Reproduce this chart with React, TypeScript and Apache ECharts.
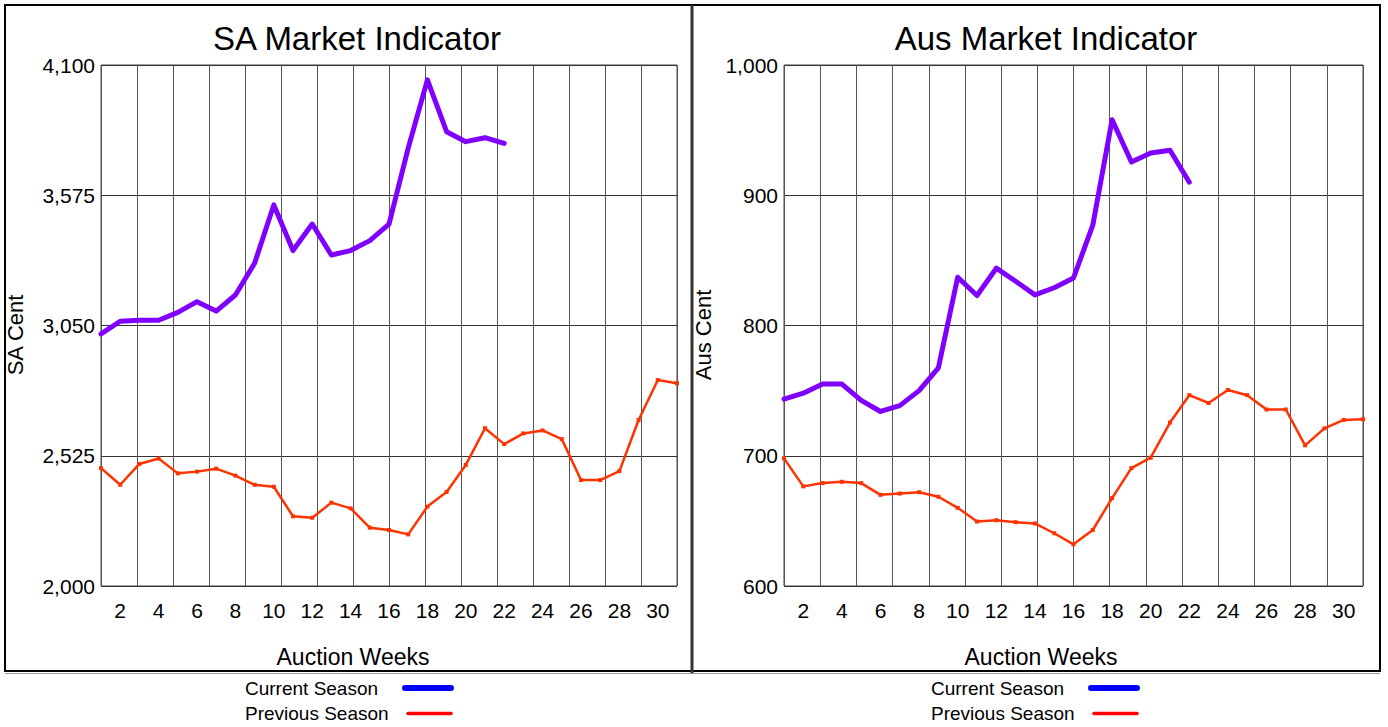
import React, { useEffect, useRef } from "react";
import * as echarts from "echarts";

const weeks = [1, 2, 3, 4, 5, 6, 7, 8, 9, 10, 11, 12, 13, 14, 15, 16, 17, 18, 19, 20, 21, 22, 23, 24, 25, 26, 27, 28, 29, 30, 31];

const saCurrent = [3016, 3067, 3071, 3071, 3103, 3146, 3108, 3173, 3301, 3536, 3352, 3459, 3334, 3352, 3392, 3459, 3765, 4040, 3831, 3791, 3807, 3784];
const saPrevious = [2475, 2408, 2492, 2514, 2454, 2461, 2473, 2445, 2408, 2400, 2281, 2275, 2336, 2313, 2235, 2226, 2208, 2320, 2379, 2488, 2636, 2572, 2615, 2627, 2592, 2427, 2427, 2463, 2669, 2830, 2817];

const ausCurrent = [743.5, 748, 755, 755, 742.5, 734, 738.5, 750, 767.5, 837, 823, 844, 834, 823.5, 829, 836.5, 877, 958, 925.5, 932.5, 934.5, 910];
const ausPrevious = [698, 676.5, 679, 680, 679, 670, 671, 672, 668.5, 660, 649.5, 650.5, 649, 648, 640.5, 632, 643, 667.5, 690.5, 698.5, 725.5, 746.5, 740.5, 750.5, 746.5, 735.5, 735.5, 708, 721, 727.5, 728];

const saTickLabels = ["2,000", "2,525", "3,050", "3,575", "4,100"];
const ausTickLabels = ["600", "700", "800", "900", "1,000"];
const saRange = [2000, 4100];
const ausRange = [600, 1000];

const titles = ["SA Market Indicator", "Aus Market Indicator"];
const yNames = ["SA Cent", "Aus Cent"];
const xName = "Auction Weeks";
const legendNames = ["Current Season", "Previous Season"];

const FONT = "'Liberation Sans', Arial, Helvetica, sans-serif";
const PURPLE = "#8000FF";
const RED = "#FF3300";

function pairs(vals: number[]) {
  return vals.map((v, i) => [weeks[i], v]);
}

export default function App() {
  const ref = useRef<HTMLDivElement>(null);

  useEffect(() => {
    if (!ref.current) return;
    const chart = echarts.init(ref.current, null, { renderer: "svg" });

    const grids = [
      { left: 101, top: 65, width: 576, height: 521 },
      { left: 784, top: 65, width: 579, height: 521 },
    ];
    const ticks = [saTickLabels, ausTickLabels];
    const ranges = [saRange, ausRange];

    const xAxis: any[] = [];
    const yAxis: any[] = [];
    grids.forEach((_, g) => {
      xAxis.push({
        gridIndex: g,
        type: "value",
        position: "bottom",
        min: weeks[0],
        max: weeks[weeks.length - 1],
        interval: 1,
        axisLine: { show: false },
        axisTick: { show: false },
        splitLine: { show: false },
        axisLabel: {
          formatter: (v: number) => (v % 2 === 0 ? String(v) : ""),
          fontSize: 21,
          color: "#000",
          margin: 14,
          fontFamily: FONT,
        },
      });
      xAxis.push({
        gridIndex: g,
        type: "value",
        position: "top",
        min: 0,
        max: 16,
        interval: 1,
        axisLine: { show: false },
        axisTick: { show: false },
        axisLabel: { show: false },
        splitLine: { show: true, lineStyle: { color: "#555", width: 1 } },
      });
      yAxis.push({
        gridIndex: g,
        type: "value",
        position: "right",
        min: ranges[g][0],
        max: ranges[g][1],
        show: false,
      });
      yAxis.push({
        gridIndex: g,
        type: "value",
        position: "left",
        min: 0,
        max: ticks[g].length - 1,
        interval: 1,
        axisLine: { show: false },
        axisTick: { show: false },
        axisLabel: {
          formatter: (v: number) => ticks[g][v] ?? "",
          fontSize: 21,
          color: "#000",
          margin: 6,
          fontFamily: FONT,
        },
        splitLine: { show: true, lineStyle: { color: "#333", width: 1 } },
      });
    });

    const currentData = [saCurrent, ausCurrent];
    const previousData = [saPrevious, ausPrevious];
    const series: any[] = [];
    grids.forEach((_, g) => {
      series.push({
        type: "line",
        name: legendNames[1],
        xAxisIndex: g * 2,
        yAxisIndex: g * 2,
        data: pairs(previousData[g]),
        symbol: "rect",
        symbolSize: 4,
        showSymbol: true,
        lineStyle: { color: RED, width: 2.5, join: "round" },
        itemStyle: { color: RED },
        z: 3,
      });
      series.push({
        type: "line",
        name: legendNames[0],
        xAxisIndex: g * 2,
        yAxisIndex: g * 2,
        data: pairs(currentData[g]),
        symbol: "none",
        lineStyle: { color: PURPLE, width: 5, join: "round", cap: "round" },
        z: 4,
      });
    });

    const graphic: any[] = [
      { type: "rect", shape: { x: 5, y: 5, width: 1375, height: 666 }, style: { fill: "none", stroke: "#000", lineWidth: 2 }, z: 10 },
      { type: "line", shape: { x1: 5, y1: 673.5, x2: 1380, y2: 673.5 }, style: { stroke: "#999", lineWidth: 1 }, z: 10 },
      { type: "line", shape: { x1: 692, y1: 5, x2: 692, y2: 673 }, style: { stroke: "#333", lineWidth: 3 }, z: 10 },
    ];
    const titleX = [357, 1046];
    const xNameX = [353, 1041];
    const yNameX = [15, 703];
    const legendOffset = [0, 686];
    grids.forEach((_, g) => {
      graphic.push({
        type: "text",
        x: titleX[g],
        y: 38,
        style: { text: titles[g], font: `33px ${FONT}`, fill: "#000", align: "center", verticalAlign: "middle" },
      });
      graphic.push({
        type: "text",
        x: xNameX[g],
        y: 657,
        style: { text: xName, font: `23px ${FONT}`, fill: "#000", align: "center", verticalAlign: "middle" },
      });
      graphic.push({
        type: "text",
        x: yNameX[g],
        y: 335,
        rotation: Math.PI / 2,
        style: { text: yNames[g], font: `22px ${FONT}`, fill: "#000", align: "center", verticalAlign: "middle" },
      });
      const o = legendOffset[g];
      graphic.push({
        type: "text",
        x: 245 + o,
        y: 688,
        style: { text: legendNames[0], font: `19px ${FONT}`, fill: "#000", align: "left", verticalAlign: "middle" },
      });
      graphic.push({
        type: "line",
        shape: { x1: 405 + o, y1: 688, x2: 451 + o, y2: 688 },
        style: { stroke: "#0000FF", lineWidth: 6, lineCap: "round" },
      });
      graphic.push({
        type: "text",
        x: 245 + o,
        y: 713,
        style: { text: legendNames[1], font: `19px ${FONT}`, fill: "#000", align: "left", verticalAlign: "middle" },
      });
      graphic.push({
        type: "line",
        shape: { x1: 408 + o, y1: 713.5, x2: 451 + o, y2: 713.5 },
        style: { stroke: "#FF0000", lineWidth: 3.5, lineCap: "round" },
      });
    });

    chart.setOption({
      animation: false,
      backgroundColor: "#fff",
      grid: grids.map((gr) => ({ ...gr, show: true, borderColor: "#444", borderWidth: 1, backgroundColor: "transparent" })),
      xAxis,
      yAxis,
      series,
      graphic,
    });

    return () => chart.dispose();
  }, []);

  return <div ref={ref} style={{ position: "absolute", left: 0, top: 0, width: 1388, height: 727 }} />;
}
